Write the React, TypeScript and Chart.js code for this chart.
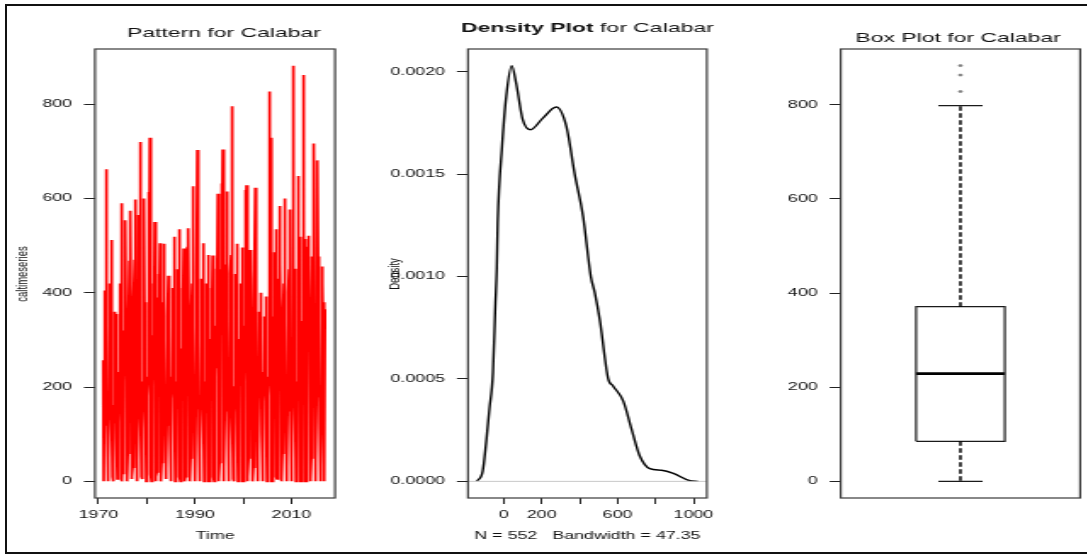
import React, { useEffect, useRef } from 'react';
import { Chart, registerables } from 'chart.js';

Chart.register(...registerables);

// ---------------- data (read / estimated from the picture) ----------------
// Monthly rainfall series for Calabar, Jan 1971 .. Dec 2016 (552 values)
const rain1971to1980 = [
  257, 0, 120, 200, 310, 405, 390, 260, 662, 330, 105, 30,
  0, 48, 145, 210, 300, 390, 420, 250, 360, 512, 130, 10,
  25, 0, 120, 160, 260, 360, 330, 210, 355, 290, 90, 5,
  30, 10, 185, 125, 230, 380, 420, 330, 350, 590, 180, 0,
  45, 15, 170, 210, 320, 390, 440, 280, 554, 300, 95, 0,
  0, 60, 130, 200, 320, 468, 360, 270, 574, 340, 140, 5,
  10, 30, 95, 215, 290, 380, 470, 240, 350, 598, 130, 0,
  0, 45, 150, 220, 330, 565, 360, 350, 720, 340, 160, 10,
  5, 20, 110, 210, 340, 400, 600, 290, 380, 310, 150, 0,
  0, 35, 180, 220, 330, 390, 614, 260, 729, 340, 130, 15,
];
const rain1981to1990 = [
  0, 55, 140, 200, 310, 420, 380, 260, 550, 300, 90, 0,
  10, 20, 160, 210, 300, 390, 440, 310, 330, 505, 120, 0,
  0, 40, 135, 200, 280, 380, 504, 250, 440, 300, 110, 5,
  15, 25, 120, 180, 260, 350, 436, 280, 410, 330, 100, 0,
  0, 60, 175, 220, 320, 410, 380, 290, 519, 350, 130, 0,
  5, 30, 150, 210, 300, 360, 450, 330, 420, 535, 140, 10,
  0, 45, 125, 220, 280, 340, 410, 360, 494, 290, 110, 0,
  10, 20, 160, 210, 330, 498, 360, 320, 537, 310, 150, 0,
  0, 50, 140, 230, 350, 420, 626, 350, 470, 330, 120, 35,
  30, 0, 155, 200, 310, 440, 703, 330, 450, 300, 100, 0,
];
const rain1991to2000 = [
  0, 60, 180, 210, 320, 390, 430, 270, 505, 340, 140, 0,
  10, 35, 140, 210, 290, 370, 420, 320, 400, 480, 120, 0,
  0, 25, 130, 200, 300, 380, 410, 340, 479, 320, 130, 10,
  0, 45, 160, 220, 330, 410, 451, 240, 360, 610, 150, 0,
  5, 40, 170, 220, 340, 450, 632, 310, 480, 704, 160, 0,
  0, 30, 150, 210, 320, 410, 460, 350, 615, 340, 130, 0,
  10, 55, 170, 220, 360, 440, 480, 320, 796, 360, 140, 5,
  0, 35, 145, 200, 310, 390, 440, 260, 360, 504, 120, 0,
  5, 20, 120, 200, 300, 380, 420, 320, 350, 496, 110, 0,
  0, 40, 160, 210, 330, 420, 618, 280, 628, 330, 125, 0,
];
const rain2001to2010 = [
  10, 50, 180, 220, 340, 491, 420, 250, 450, 320, 130, 0,
  0, 30, 160, 220, 350, 430, 623, 310, 480, 340, 140, 5,
  0, 60, 180, 240, 300, 360, 330, 270, 400, 310, 100, 0,
  5, 45, 170, 230, 290, 350, 320, 280, 392, 300, 120, 0,
  0, 50, 180, 220, 350, 827, 450, 360, 729, 340, 150, 0,
  0, 40, 170, 210, 350, 486, 420, 240, 360, 535, 140, 10,
  5, 35, 160, 220, 330, 430, 584, 330, 460, 320, 130, 0,
  0, 60, 180, 210, 350, 420, 470, 270, 600, 340, 120, 0,
  10, 30, 150, 200, 320, 400, 450, 340, 360, 577, 140, 0,
  0, 45, 170, 220, 882, 420, 400, 290, 451, 330, 160, 0,
];
const rain2011to2016 = [
  10, 55, 170, 210, 330, 648, 420, 350, 360, 519, 130, 0,
  0, 40, 160, 220, 340, 440, 862, 260, 470, 514, 150, 0,
  0, 35, 150, 498, 330, 420, 521, 310, 460, 320, 130, 0,
  5, 50, 170, 477, 340, 430, 460, 240, 717, 330, 140, 0,
  0, 40, 180, 220, 350, 681, 440, 330, 477, 340, 120, 0,
  0, 30, 160, 220, 456, 400, 420, 280, 380, 200, 0, 365,
];
const START_YEAR = 1971;
const TS_X_TICKS = [1970, 1980, 1990, 2000, 2010];
const TS_X_LABELLED = [1970, 1990, 2010];
const VALUE_TICKS = [0, 200, 400, 600, 800];

// Kernel density curve (x in mm, y density)
const densityX = [-142, -111, -93, -76, -57, -44, -37, -32, -9, 13, 42, 65, 100, 140, 206, 277, 330, 374, 418, 459, 480, 506, 550, 577, 630, 674, 717, 770, 832, 894, 982, 1024];
const densityY = [0, 0.00005, 0.000189, 0.000351, 0.000532, 0.000872, 0.001034, 0.001262, 0.001636, 0.00188, 0.00203, 0.001945, 0.001766, 0.001717, 0.001774, 0.001828, 0.001733, 0.0015, 0.001294, 0.001, 0.00092, 0.00079, 0.000503, 0.000465, 0.000392, 0.000254, 0.000124, 0.000062, 0.000054, 0.000039, 0.000003, 0];
const DENS_X_TICKS = [0, 200, 400, 600, 800, 1000];
const DENS_X_LABELLED = [0, 200, 600, 1000];
const DENS_Y_TICKS = [0, 0.0005, 0.001, 0.0015, 0.002];
const DENS_N = 552;
const DENS_BW = 47.35;

// Box plot: lower whisker, Q1, median, Q3, upper whisker; outliers
const boxStats = [0, 85, 229, 371, 798];
const boxOutliers = [828, 863, 883];

// ---------------- layout / style ----------------
const S = 1.7; // horizontal stretch of the canvases (as in the reference image)
const FONT = "'Liberation Sans', Arial, sans-serif";
const TEXT = '#111';
const FRAME = '#3a3a3a';
const TICK_SIZE = 10.5;
const TITLE_SIZE = 13.5;
const LABEL_SIZE = 10.5;
const YLAB_SIZE = 9.5;

function makePanelPlugin(cfg: any) {
  return {
    id: 'rPanel',
    afterDraw(chart: any) {
      const { ctx, chartArea: a } = chart;
      ctx.save();
      ctx.strokeStyle = FRAME;
      ctx.lineWidth = 1.2;
      ctx.strokeRect(a.left, a.top, a.right - a.left, a.bottom - a.top);
      ctx.fillStyle = TEXT;
      ctx.textBaseline = 'middle';
      const fonts = cfg.title.map((p: any) => `${p.bold ? 'bold ' : ''}${TITLE_SIZE}px ${FONT}`);
      let total = 0;
      cfg.title.forEach((p: any, i: number) => {
        ctx.font = fonts[i];
        total += ctx.measureText(p.text).width;
      });
      let x = (a.left + a.right) / 2 + cfg.titleDx - total / 2;
      ctx.textAlign = 'left';
      cfg.title.forEach((p: any, i: number) => {
        ctx.font = fonts[i];
        ctx.fillText(p.text, x, cfg.titleY);
        x += ctx.measureText(p.text).width;
      });
      if (cfg.xLabel) {
        ctx.font = `${LABEL_SIZE}px ${FONT}`;
        ctx.textAlign = 'center';
        ctx.fillText(cfg.xLabel, (a.left + a.right) / 2, cfg.xLabelY);
      }
      if (cfg.yLabel) {
        ctx.save();
        ctx.translate(cfg.yLabelX, cfg.yLabelY);
        ctx.rotate(-Math.PI / 2);
        ctx.font = `${YLAB_SIZE}px ${FONT}`;
        ctx.textAlign = 'center';
        ctx.fillText(cfg.yLabel, 0, 0);
        ctx.restore();
      }
      ctx.restore();
    },
  };
}

function yAxis(width: number, min: number, max: number, ticks: number[], fmt: (v: number) => string) {
  return {
    type: 'linear',
    min,
    max,
    afterBuildTicks: (s: any) => {
      s.ticks = ticks.map((v) => ({ value: v }));
    },
    afterFit: (s: any) => {
      s.width = width;
      s.paddingTop = 0;
      s.paddingBottom = 0;
    },
    border: { display: false },
    grid: { drawOnChartArea: false, drawTicks: true, tickLength: 6.5, tickColor: '#222', lineWidth: 1 },
    ticks: { color: TEXT, font: { family: FONT, size: TICK_SIZE }, padding: 7, autoSkip: false, callback: (v: any) => fmt(Number(v)) },
  };
}

function xAxis(min: number, max: number, ticks: number[], labelled: number[]) {
  return {
    type: 'linear',
    min,
    max,
    afterBuildTicks: (s: any) => {
      s.ticks = ticks.map((v) => ({ value: v }));
    },
    afterFit: (s: any) => {
      s.height = 56;
      s.paddingLeft = 0;
      s.paddingRight = 0;
    },
    border: { display: false },
    grid: { drawOnChartArea: false, drawTicks: true, tickLength: 6, tickColor: '#222', lineWidth: 1 },
    ticks: {
      color: TEXT,
      font: { family: FONT, size: TICK_SIZE },
      padding: 4.5,
      autoSkip: false,
      maxRotation: 0,
      callback: (v: any) => (labelled.includes(Number(v)) ? String(v) : ''),
    },
  };
}

const baseOptions = (padRight: number, padBottom: number) => ({
  responsive: false,
  maintainAspectRatio: false,
  animation: false,
  devicePixelRatio: 1,
  layout: { padding: { top: 49, bottom: padBottom, left: 0, right: padRight } },
  plugins: { legend: { display: false }, tooltip: { enabled: false }, title: { display: false } },
  events: [],
});

function seriesConfig(): any {
  const all = [...rain1971to1980, ...rain1981to1990, ...rain1991to2000, ...rain2001to2010, ...rain2011to2016];
  const pts = all.map((v, i) => ({ x: START_YEAR + i / 12, y: v }));
  return {
    type: 'line',
    data: {
      datasets: [
        { data: pts, borderColor: '#ff0000', borderWidth: 1.7, pointRadius: 0, tension: 0, fill: false },
      ],
    },
    options: {
      ...baseOptions(15.9, 0),
      scales: {
        x: xAxis(1969.3, 2019.0, TS_X_TICKS, TS_X_LABELLED),
        y: yAxis(55.9, -35.3, 917.3, VALUE_TICKS, (v) => String(v)),
      },
    },
    plugins: [
      makePanelPlugin({
        title: [{ text: 'Pattern for Calabar', bold: false }],
        titleY: 33,
        titleDx: 5.3,
        xLabel: 'Time',
        xLabelY: 536,
        yLabel: 'caltimeseries',
        yLabelX: 13.2,
        yLabelY: 274,
      }),
    ],
  };
}

function densityConfig(): any {
  const pts = densityX.map((x, i) => ({ x, y: densityY[i] }));
  const xMin = -188.7;
  const xMax = 1070.7;
  return {
    type: 'line',
    data: {
      datasets: [
        { data: [{ x: xMin, y: 0 }, { x: xMax, y: 0 }], borderColor: '#c8c8c8', borderWidth: 1, pointRadius: 0 },
        { data: pts, borderColor: '#000', borderWidth: 1.4, pointRadius: 0, cubicInterpolationMode: 'monotone', fill: false },
      ],
    },
    options: {
      ...baseOptions(10.1, 0),
      scales: {
        x: xAxis(xMin, xMax, DENS_X_TICKS, DENS_X_LABELLED),
        y: yAxis(62.35, -0.0000812, 0.0021112, DENS_Y_TICKS, (v) => v.toFixed(4)),
      },
    },
    plugins: [
      makePanelPlugin({
        title: [
          { text: 'Density Plot', bold: true },
          { text: ' for Calabar', bold: false },
        ],
        titleY: 28,
        titleDx: 0,
        xLabel: `N = ${DENS_N}   Bandwidth = ${DENS_BW}`,
        xLabelY: 536,
        yLabel: 'Density',
        yLabelX: 19.4,
        yLabelY: 274,
      }),
    ],
  };
}

function boxConfig(): any {
  const [lo, q1, med, q3, hi] = boxStats;
  const C = 1;
  const BW = 0.2; // half box width
  const CW = 0.1; // half staple width
  const stroke = '#1a1a1a';
  const line = (data: any[], extra: any = {}) => ({
    type: 'line',
    data,
    borderColor: stroke,
    borderWidth: 1.2,
    pointRadius: 0,
    fill: false,
    tension: 0,
    ...extra,
  });
  return {
    type: 'line',
    data: {
      datasets: [
        line([{ x: C, y: q3 }, { x: C, y: hi }], { borderDash: [4.5, 2.5], borderWidth: 1.5, borderColor: '#000' }),
        line([{ x: C, y: q1 }, { x: C, y: lo }], { borderDash: [4.5, 2.5], borderWidth: 1.5, borderColor: '#000' }),
        line([{ x: C - CW, y: hi }, { x: C + CW, y: hi }]),
        line([{ x: C - CW, y: lo }, { x: C + CW, y: lo }]),
        line([
          { x: C - BW, y: q1 },
          { x: C + BW, y: q1 },
          { x: C + BW, y: q3 },
          { x: C - BW, y: q3 },
          { x: C - BW, y: q1 },
        ]),
        line([{ x: C - BW, y: med }, { x: C + BW, y: med }], { borderWidth: 2.8, borderColor: '#000' }),
        {
          type: 'scatter',
          data: boxOutliers.map((v) => ({ x: C, y: v })),
          pointRadius: 1.1,
          pointStyle: 'circle',
          backgroundColor: '#888',
          borderColor: '#666',
          borderWidth: 0.5,
        },
      ],
    },
    options: {
      ...baseOptions(4.6, 56),
      scales: {
        x: { type: 'linear', min: 0.46, max: 1.54, display: false },
        y: yAxis(68.6, -35.3, 918.3, VALUE_TICKS, (v) => String(v)),
      },
    },
    plugins: [
      makePanelPlugin({
        title: [{ text: 'Box Plot for Calabar', bold: false }],
        titleY: 38,
        titleDx: -1.4,
      }),
    ],
  };
}

const PANELS = [
  { left: 0, w: 213 },
  { left: 362, w: 213 },
  { left: 724, w: 214 },
];

export default function App() {
  const r1 = useRef<HTMLCanvasElement>(null);
  const r2 = useRef<HTMLCanvasElement>(null);
  const r3 = useRef<HTMLCanvasElement>(null);

  useEffect(() => {
    const charts = [
      new Chart(r1.current as HTMLCanvasElement, seriesConfig()),
      new Chart(r2.current as HTMLCanvasElement, densityConfig()),
      new Chart(r3.current as HTMLCanvasElement, boxConfig()),
    ];
    return () => charts.forEach((c) => c.destroy());
  }, []);

  const refs = [r1, r2, r3];
  return (
    <div style={{ position: 'fixed', left: 0, top: 0, width: 1087, height: 554, overflow: 'hidden', background: '#fff' }}>
      <div
        style={{
          position: 'absolute',
          left: 5,
          top: 4,
          width: 1100,
          height: 550,
          border: '2px solid #111',
          boxSizing: 'border-box',
        }}
      />
      {PANELS.map((p, i) => (
        <canvas
          key={i}
          ref={refs[i]}
          width={p.w}
          height={554}
          style={{ position: 'absolute', left: p.left, top: 0, width: p.w * S, height: 554 }}
        />
      ))}
    </div>
  );
}
